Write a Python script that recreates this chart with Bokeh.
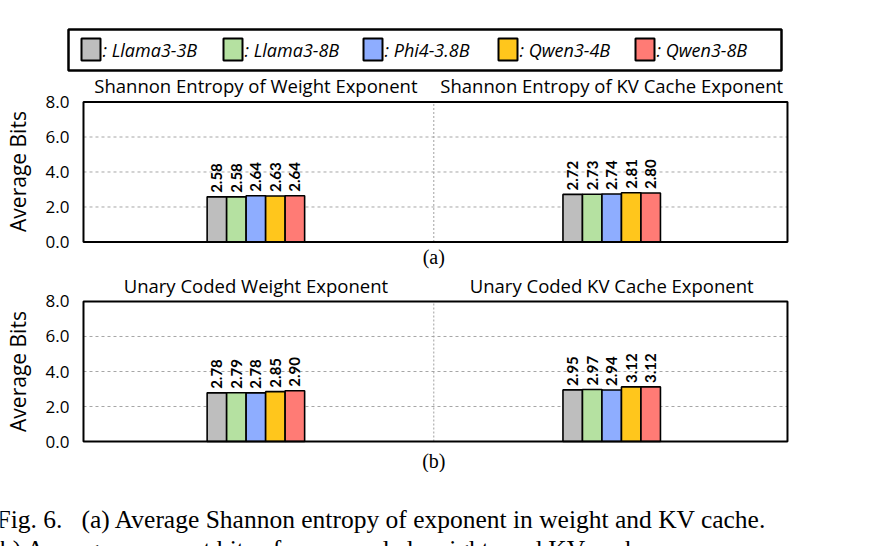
import math

from bokeh.core.properties import value
from bokeh.embed import file_html
from bokeh.layouts import column
from bokeh.models import ColumnDataSource, FixedTicker, NumeralTickFormatter, Range1d
from bokeh.plotting import figure
from bokeh.resources import INLINE

# ---- data -----------------------------------------------------------------
models = ["Llama3-3B", "Llama3-8B", "Phi4-3.8B", "Qwen3-4B", "Qwen3-8B"]
colors = ["#BEBEBE", "#B5E1A1", "#8EADFF", "#FFC61C", "#FF7B75"]

titles_a = ["Shannon Entropy of Weight Exponent", "Shannon Entropy of KV Cache Exponent"]
titles_b = ["Unary Coded Weight Exponent", "Unary Coded KV Cache Exponent"]

entropy_weight = [2.58, 2.58, 2.64, 2.63, 2.64]
entropy_kv = [2.72, 2.73, 2.74, 2.81, 2.80]
unary_weight = [2.78, 2.79, 2.78, 2.85, 2.90]
unary_kv = [2.95, 2.97, 2.94, 3.12, 3.12]

y_ticks = [0, 2, 4, 6, 8]
y_grid = [2, 4, 6]
y_max = 8
y_label = "Average Bits"

caption_lines = [
    "Fig. 6. \u00a0\u00a0(a) Average Shannon entropy of exponent in weight and KV cache.",
    "(b) Average exponent bits of unary coded weights and KV cache.",
]

# ---- styling --------------------------------------------------------------
W = 887
BAR_W = 0.0548
BOX_X = (0.0155, 1.994)      # plotting box (x) inside the frame
X_RANGE = (0.0071, 2.0081)   # frame, a little wider than the box
SANS = "Open Sans"
SERIF = "Liberation Serif"


def blank(height, y0, y1):
    f = figure(width=W, height=height, x_range=Range1d(0, W), y_range=Range1d(y1, y0),
               min_border=0, frame_align=False, output_backend="svg",
               toolbar_location=None)
    f.axis.visible = False
    f.grid.visible = False
    f.outline_line_color = None
    f.background_fill_color = "white"
    f.border_fill_color = "white"
    return f


def panel(titles, groups, tag, height, y_lo, y_hi, title_y, tag_y):
    p = figure(width=W, height=height, x_range=Range1d(*X_RANGE),
               y_range=Range1d(y_lo, y_hi), min_border_left=80, min_border_right=95,
               min_border_top=0, min_border_bottom=0, frame_align=False,
               output_backend="svg", toolbar_location=None)
    p.background_fill_color = "white"
    p.border_fill_color = "white"
    p.outline_line_color = None
    p.grid.visible = False
    p.xaxis.visible = False

    ax = p.yaxis[0]
    ax.ticker = FixedTicker(ticks=y_ticks)
    ax.formatter = NumeralTickFormatter(format="0.0")
    ax.major_label_text_font = SANS
    ax.major_label_text_font_size = "17px"
    ax.major_label_text_color = "black"
    ax.major_label_standoff = 11
    ax.major_tick_out = 0
    ax.major_tick_in = 0
    ax.major_tick_line_color = None
    ax.minor_tick_line_color = None
    ax.axis_line_color = None
    ax.axis_label = y_label
    ax.axis_label_text_font = SANS
    ax.axis_label_text_font_style = "normal"
    ax.axis_label_text_font_size = "21px"
    ax.axis_label_text_color = "black"
    ax.axis_label_standoff = 11

    # dashed horizontal grid and the dotted divider between the two groups
    p.segment(x0=[BOX_X[0]] * len(y_grid), x1=[BOX_X[1]] * len(y_grid), y0=y_grid,
              y1=y_grid, line_color="#A6A6A6", line_dash="3 3", line_width=1)
    p.segment(x0=[1.0], x1=[1.0], y0=[0], y1=[y_max], line_color="#A0A0A0",
              line_dash="2 2", line_width=1)

    for gi, vals in enumerate(groups):
        centre = gi + 0.5
        src = ColumnDataSource(dict(
            x=[centre + (k - 2) * BAR_W for k in range(len(vals))],
            top=vals,
            color=colors,
            label=[f"{v:.2f}" for v in vals],
        ))
        p.vbar(x="x", top="top", bottom=0, width=BAR_W, fill_color="color",
               line_color="black", line_width=1.6, source=src)
        p.text(x="x", y="top", text="label", angle=math.pi / 2, y_offset=-4,
               text_align="left", text_baseline="middle", text_font=value("Lato"),
               text_font_style="bold", text_font_size="15px", text_color="black",
               source=src)

    p.text(x=[0.5, 1.5], y=[title_y] * 2, text=titles, text_align="center",
           text_baseline="middle", text_font=value(SANS), text_font_size="18.5px",
           text_color="black")
    p.text(x=[1.0], y=[tag_y], text=[tag], text_align="center", text_baseline="middle",
           text_font=value(SERIF), text_font_size="20px", text_color="black")

    # black box around the plotting area
    p.quad(left=[BOX_X[0]], right=[BOX_X[1]], bottom=[0], top=[y_max], fill_color=None,
           line_color="black", line_width=2)
    return p


# ---- legend strip ---------------------------------------------------------
leg = blank(72, 0, 72)
swatch_x = [81, 223, 363, 498, 635]
leg.quad(left=[68], right=[781], top=[29], bottom=[70], fill_color=None,
         line_color="black", line_width=2.5)
leg.rect(x=[s + 9.5 for s in swatch_x], y=[49] * 5, width=19, height=22,
         fill_color=colors, line_color="black", line_width=2)
leg.text(x=[s + 21 for s in swatch_x], y=[49] * 5, text=[": " + m for m in models],
         text_font=value(SANS), text_font_style="italic", text_font_size="18px",
         text_baseline="middle", text_color="black")

# ---- panels (17.5 px per unit on y) ---------------------------------------
fig_a = panel(titles_a, [entropy_weight, entropy_kv], "(a)", 198,
              -1.629, 9.686, 8.94, -0.886)
fig_b = panel(titles_b, [unary_weight, unary_kv], "(b)", 202,
              -1.771, 9.771, 8.914, -1.086)

# ---- caption --------------------------------------------------------------
cap = blank(74, 472, 546)
cap.text(x=[-4, -9], y=[519, 549], text=caption_lines, text_font=value(SERIF),
         text_font_size="25.5px", text_baseline="alphabetic", text_color="black")

page = column(leg, fig_a, fig_b, cap, spacing=0)
open("out.html", "w").write(file_html(page, INLINE))
